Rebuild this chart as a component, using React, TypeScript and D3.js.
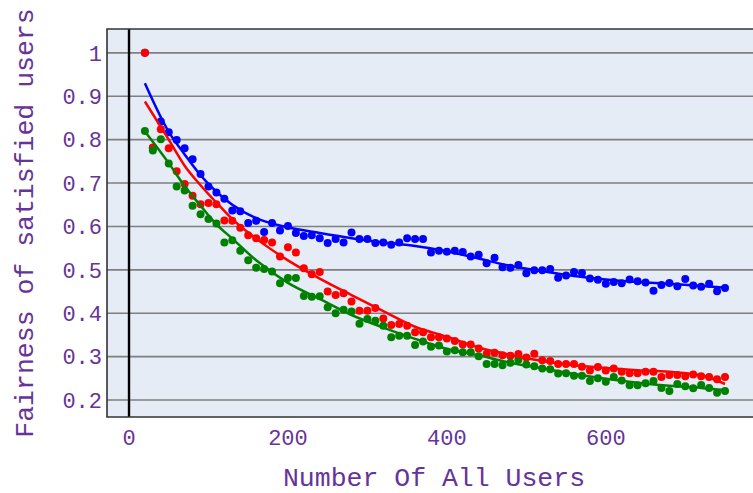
import React from "react";
import * as d3 from "d3";

const xValues: number[] = [
  20, 30, 40, 50, 60, 70, 80, 90, 100, 110, 120, 130, 140, 150, 160, 170, 180, 190, 200,
  210, 220, 230, 240, 250, 260, 270, 280, 290, 300, 310, 320, 330, 340, 350, 360, 370, 380,
  390, 400, 410, 420, 430, 440, 450, 460, 470, 480, 490, 500, 510, 520, 530, 540, 550, 560,
  570, 580, 590, 600, 610, 620, 630, 640, 650, 660, 670, 680, 690, 700, 710, 720, 730, 740, 750,
];

const blueValues: number[] = [
  1.0, 0.78, 0.842, 0.817, 0.799, 0.78, 0.755, 0.721, 0.692, 0.678, 0.664, 0.637, 0.635, 0.608,
  0.613, 0.587, 0.608, 0.591, 0.601, 0.585, 0.578, 0.58, 0.573, 0.562, 0.571, 0.563, 0.586,
  0.571, 0.571, 0.562, 0.563, 0.558, 0.563, 0.573, 0.571, 0.571, 0.54, 0.544, 0.542, 0.544,
  0.541, 0.531, 0.535, 0.515, 0.528, 0.506, 0.505, 0.511, 0.492, 0.499, 0.499, 0.502, 0.482,
  0.487, 0.495, 0.493, 0.48, 0.477, 0.468, 0.472, 0.469, 0.478, 0.474, 0.471, 0.452, 0.465,
  0.47, 0.462, 0.479, 0.464, 0.461, 0.468, 0.451, 0.458,
];

const redValues: number[] = [
  1.0, 0.782, 0.824, 0.78, 0.727, 0.698, 0.671, 0.651, 0.654, 0.651, 0.614, 0.613, 0.597, 0.58,
  0.573, 0.569, 0.563, 0.531, 0.552, 0.54, 0.504, 0.49, 0.495, 0.45, 0.442, 0.446, 0.427,
  0.406, 0.406, 0.412, 0.388, 0.373, 0.375, 0.371, 0.356, 0.356, 0.345, 0.345, 0.342, 0.336,
  0.328, 0.328, 0.319, 0.306, 0.309, 0.303, 0.302, 0.306, 0.298, 0.307, 0.292, 0.29, 0.283,
  0.283, 0.283, 0.277, 0.268, 0.276, 0.268, 0.273, 0.265, 0.262, 0.262, 0.265, 0.265, 0.253,
  0.258, 0.258, 0.255, 0.259, 0.255, 0.253, 0.248, 0.253,
];

const greenValues: number[] = [
  0.82, 0.775, 0.801, 0.745, 0.692, 0.683, 0.648, 0.628, 0.617, 0.607, 0.563, 0.568, 0.544,
  0.522, 0.505, 0.502, 0.496, 0.469, 0.481, 0.481, 0.44, 0.438, 0.439, 0.414, 0.4, 0.408,
  0.404, 0.376, 0.387, 0.383, 0.371, 0.345, 0.348, 0.348, 0.327, 0.335, 0.323, 0.326, 0.312,
  0.315, 0.31, 0.31, 0.301, 0.283, 0.283, 0.28, 0.286, 0.293, 0.282, 0.278, 0.273, 0.271,
  0.261, 0.262, 0.256, 0.256, 0.244, 0.25, 0.242, 0.253, 0.245, 0.234, 0.234, 0.239, 0.244,
  0.228, 0.221, 0.237, 0.232, 0.227, 0.235, 0.228, 0.217, 0.221,
];

// fitted trend curves
const fitX: number[] = [20, 50, 70, 90, 110, 130, 160, 200, 240, 280, 320, 360, 400, 440, 480, 520, 560, 600, 640, 680, 720, 750];
const blueFit: number[] = [0.93, 0.818, 0.766, 0.718, 0.68, 0.65, 0.619, 0.598, 0.585, 0.573, 0.563, 0.555, 0.543, 0.526, 0.509, 0.497, 0.486, 0.478, 0.472, 0.468, 0.463, 0.459];
const redFit: number[] = [0.888, 0.8, 0.74, 0.695, 0.655, 0.617, 0.572, 0.522, 0.48, 0.442, 0.405, 0.369, 0.346, 0.321, 0.304, 0.29, 0.28, 0.274, 0.269, 0.265, 0.257, 0.237];
const greenFit: number[] = [0.819, 0.746, 0.693, 0.648, 0.605, 0.572, 0.522, 0.47, 0.433, 0.396, 0.367, 0.341, 0.318, 0.303, 0.286, 0.273, 0.26, 0.249, 0.24, 0.233, 0.228, 0.223];

const xTicks: number[] = [0, 200, 400, 600];
const yTicks: number[] = [0.2, 0.3, 0.4, 0.5, 0.6, 0.7, 0.8, 0.9, 1];
const xTitle = "Number Of All Users";
const yTitle = "Fairness of satisfied users";

const W = 753;
const H = 493;
const box = { left: 107, right: 756, top: 29, bottom: 417 };
const FONT = "'Liberation Mono', 'Courier New', monospace";
const TEXT = "#663399";

export default function App() {
  const x = d3.scaleLinear().domain([-27.7, 789]).range([box.left, box.right]);
  const y = d3.scaleLinear().domain([0.161, 1.055]).range([box.bottom, box.top]);

  const line = d3
    .line<[number, number]>()
    .x((d) => x(d[0]))
    .y((d) => y(d[1]))
    .curve(d3.curveMonotoneX);

  const series = [
    { vals: blueValues, fit: blueFit, color: "#0000ff" },
    { vals: redValues, fit: redFit, color: "#ff0000" },
    { vals: greenValues, fit: greenFit, color: "#008000" },
  ];

  return (
    <svg
      width={W}
      height={H}
      style={{ position: "absolute", left: 0, top: 0, background: "#fff" }}
    >
      <rect x={box.left} y={box.top} width={box.right - box.left} height={box.bottom - box.top} fill="#e5ecf6" />
      {yTicks.map((t) => (
        <line key={t} x1={box.left} x2={box.right} y1={y(t)} y2={y(t)} stroke="#7f7f7f" strokeWidth={1.6} />
      ))}
      <line x1={x(0)} x2={x(0)} y1={box.top} y2={box.bottom} stroke="#000" strokeWidth={2.4} />
      <path
        d={`M${box.right},${box.top}H${box.left}V${box.bottom}H${box.right}`}
        fill="none"
        stroke="#333"
        strokeWidth={1.6}
      />
      {series.map((s, si) => (
        <g key={"p" + si} fill={s.color}>
          {s.vals.map((v, i) => (
            <circle key={i} cx={x(xValues[i])} cy={y(v)} r={4} />
          ))}
        </g>
      ))}
      {series.map((s, si) => (
        <path
          key={"l" + si}
          d={line(fitX.map((fx, i) => [fx, s.fit[i]] as [number, number])) || ""}
          fill="none"
          stroke={s.color}
          strokeWidth={2.5}
        />
      ))}
      {yTicks.map((t) => (
        <text
          key={t}
          x={box.left - 5}
          y={y(t)}
          dy="0.35em"
          textAnchor="end"
          fontFamily={FONT}
          fontSize={22}
          fill={TEXT}
        >
          {d3.format("")(t)}
        </text>
      ))}
      {xTicks.map((t) => (
        <text
          key={t}
          x={x(t)}
          y={445}
          textAnchor="middle"
          fontFamily={FONT}
          fontSize={22}
          fill={TEXT}
        >
          {t}
        </text>
      ))}
      <text x={434} y={486} textAnchor="middle" fontFamily={FONT} fontSize={26.5} fill={TEXT}>
        {xTitle}
      </text>
      <text
        transform={`translate(33,${(box.top + box.bottom) / 2}) rotate(-90)`}
        textAnchor="middle"
        fontFamily={FONT}
        fontSize={26.5}
        fill={TEXT}
      >
        {yTitle}
      </text>
    </svg>
  );
}
